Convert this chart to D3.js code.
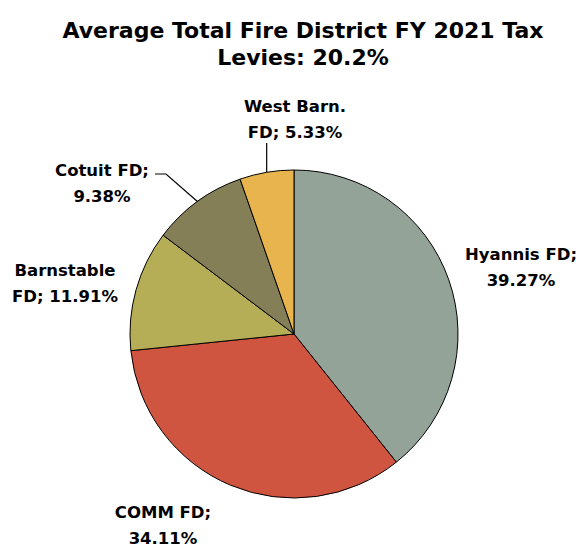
<!DOCTYPE html>
<html>
<head>
<meta charset="utf-8">
<script src="https://cdn.jsdelivr.net/npm/d3@7"></script>
<style>
 body { margin: 0; background: #fff; }
 text { font-family: "DejaVu Sans", sans-serif; font-weight: bold; fill: #000; }
</style>
</head>
<body>
<div id="chart"></div>
<script>
// chart data
var districts = ['Hyannis FD', 'COMM FD', 'Barnstable FD', 'Cotuit FD', 'West Barn. FD'];
var shares = [39.27, 34.11, 11.91, 9.38, 5.33];
var sliceColors = ['#93a398', '#cf5540', '#b6ae57', '#857f58', '#e8b44e'];
// label text split on two lines, as in the original
var labelLines = [
 ['Hyannis FD;', '39.27%'],
 ['COMM FD;', '34.11%'],
 ['Barnstable', 'FD; 11.91%'],
 ['Cotuit FD;', '9.38%'],
 ['West Barn.', 'FD; 5.33%']
];
var titleLines = ['Average Total Fire District FY 2021 Tax', 'Levies: 20.2%'];

// graphical parameters
var graphicAtt = {};
graphicAtt.width = 585;
graphicAtt.height = 548;
graphicAtt.cx = 294;
graphicAtt.cy = 334;
graphicAtt.radius = 164;
graphicAtt.fontSize = 16.5;
graphicAtt.lineGap = 26;

// label first-line baselines (layout only) and which labels get a leader line
var labelAnchors = [[521, 260], [163, 518], [65, 276], [102, 176], [295, 112]];
var leaders = [null, null, null, {elbowX: 166, endX: 155, y: 174}, {y: 143}];

var svg = d3.select('#chart').append('svg')
 .attr('width', graphicAtt.width)
 .attr('height', graphicAtt.height);

// title
svg.append('text')
 .attr('x', 303)
 .attr('text-anchor', 'middle')
 .style('font-size', '22px')
 .selectAll('tspan').data(titleLines).enter().append('tspan')
 .attr('x', 303)
 .attr('y', function(d, i){ return 38 + i * 27; })
 .text(function(d){ return d; });

var pie = d3.pie().sort(null).value(function(d){ return d; });
var arcs = pie(shares);
var arc = d3.arc().innerRadius(0).outerRadius(graphicAtt.radius);

var pieLayer = svg.append('g')
 .attr('transform', 'translate(' + graphicAtt.cx + ',' + graphicAtt.cy + ')');

pieLayer.selectAll('path').data(arcs).enter().append('path')
 .attr('d', arc)
 .style('fill', function(d, i){ return sliceColors[i]; })
 .style('stroke', '#000')
 .style('stroke-width', 1);

// leader lines start on the rim at the middle angle of the slice
arcs.forEach(function(d, i)
{
 var lead = leaders[i];
 if(!lead) return;
 var mid = (d.startAngle + d.endAngle) / 2;
 var px = graphicAtt.cx + graphicAtt.radius * Math.sin(mid);
 var py = graphicAtt.cy - graphicAtt.radius * Math.cos(mid);
 var pts;
 if(lead.elbowX !== undefined)
 {
  pts = [[px, py], [lead.elbowX, lead.y], [lead.endX, lead.y]];
 }
 else
 {
  pts = [[px, py], [px, lead.y]];
 }
 svg.append('path')
  .attr('d', d3.line()(pts))
  .style('fill', 'none')
  .style('stroke', '#000')
  .style('stroke-width', 1.2);
});

// data labels
var labels = svg.selectAll('.dlabel').data(arcs).enter().append('text')
 .attr('class', 'dlabel')
 .attr('text-anchor', 'middle')
 .style('font-size', graphicAtt.fontSize + 'px');

labels.each(function(d, i)
{
 var t = d3.select(this);
 labelLines[i].forEach(function(line, j)
 {
  t.append('tspan')
   .attr('x', labelAnchors[i][0])
   .attr('y', labelAnchors[i][1] + j * graphicAtt.lineGap)
   .text(line);
 });
});
</script>
</body>
</html>
